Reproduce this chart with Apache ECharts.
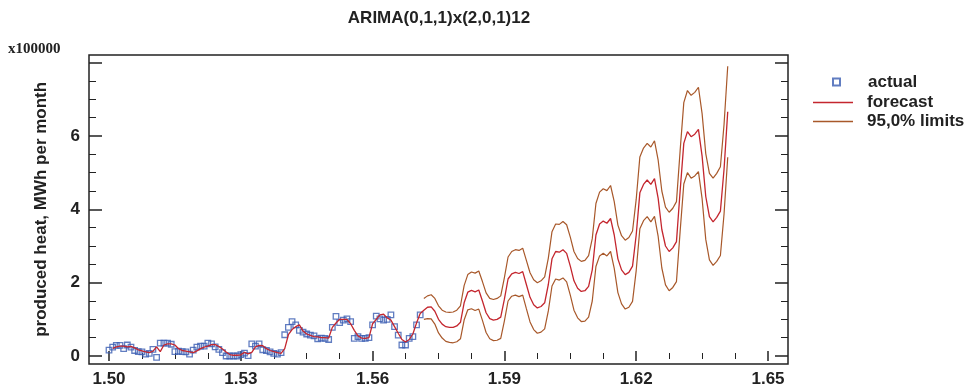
<!DOCTYPE html>
<html><head><meta charset="utf-8">
<script src="https://cdn.jsdelivr.net/npm/echarts@6/dist/echarts.min.js"></script>
<style>html,body{margin:0;padding:0;background:#fff}#c{width:964px;height:390px}</style>
</head><body><div id="c"></div>
<script>
// x axis: 1.50 .. 1.65, one unit of 0.01 per 12 months
const xTickLabels = [1.50, 1.53, 1.56, 1.59, 1.62, 1.65];
const yTickLabels = [0, 2, 4, 6];
const startX = 1.50;
const monthStep = 0.01 / 12;

// actual observations, months 0..85 (x100000 MWh)
const actual = [
  0.16,0.24,0.29,0.29,0.20,0.30,0.24,0.15,0.12,0.11,
  0.05,0.07,0.18,-0.04,0.35,0.35,0.35,0.32,0.12,0.13,
  0.12,0.11,0.05,0.16,0.24,0.27,0.27,0.35,0.33,0.25,
  0.18,0.09,0.00,0.00,0.00,0.00,0.04,0.08,0.01,0.33,
  0.27,0.33,0.17,0.15,0.11,0.07,0.05,0.09,0.58,0.78,
  0.94,0.85,0.70,0.65,0.60,0.57,0.55,0.47,0.49,0.48,
  0.45,0.78,1.08,0.91,0.98,1.01,0.94,0.48,0.53,0.48,
  0.48,0.50,0.85,1.09,1.01,0.98,1.00,1.12,0.80,0.57,
  0.30,0.30,0.48,0.53,0.85,1.12
];
// one-step fitted values, months 1..85
const fitted = [
  0.21,0.25,0.27,0.27,0.25,0.26,0.22,0.17,0.14,
  0.11,0.09,0.13,0.25,0.12,0.30,0.33,0.33,0.30,0.20,
  0.15,0.13,0.11,0.09,0.14,0.20,0.24,0.27,0.31,0.31,
  0.26,0.19,0.11,0.04,0.02,0.02,0.03,0.10,0.06,0.10,
  0.25,0.29,0.28,0.20,0.15,0.12,0.09,0.07,0.20,0.58,
  0.72,0.80,0.85,0.68,0.60,0.56,0.53,0.52,0.50,0.50,
  0.49,0.78,0.90,1.00,1.00,1.00,0.88,0.70,0.55,0.49,
  0.48,0.50,0.88,1.00,1.12,1.14,1.04,0.98,0.80,0.62,
  0.45,0.38,0.45,0.60,0.90,1.16
];
// forecasts, months 86..169
const forecast = [
  1.25,1.33,1.34,1.22,1.00,0.87,0.80,0.78,0.78,0.82,
  0.92,1.45,1.74,1.79,1.75,1.80,1.50,1.18,1.02,0.98,1.00,1.06,
  1.55,2.10,2.24,2.28,2.25,2.30,1.95,1.60,1.40,1.31,1.35,1.45,
  1.95,2.65,2.85,2.83,2.90,2.80,2.45,2.05,1.85,1.76,1.78,1.90,
  2.35,3.30,3.60,3.68,3.62,3.75,3.30,2.65,2.35,2.22,2.28,2.45,
  3.30,4.45,4.68,4.80,4.68,4.84,4.30,3.45,3.00,2.85,2.95,3.12,
  4.50,5.80,6.12,5.98,6.05,6.18,5.45,4.35,3.80,3.66,3.78,3.95,
  5.10,6.66
];
const upperLimit = [
  1.57,1.64,1.67,1.57,1.37,1.25,1.20,1.19,1.20,1.25,
  1.37,1.92,2.22,2.29,2.26,2.32,2.03,1.72,1.57,1.54,1.57,1.64,
  2.14,2.70,2.85,2.90,2.88,2.94,2.61,2.27,2.08,2.00,2.05,2.16,
  2.67,3.39,3.60,3.59,3.67,3.58,3.24,2.85,2.66,2.58,2.61,2.74,
  3.20,4.16,4.47,4.56,4.51,4.65,4.21,3.57,3.28,3.16,3.23,3.41,
  4.27,5.43,5.67,5.80,5.70,5.87,5.34,4.50,4.06,3.92,4.03,4.21,
  5.60,6.91,7.24,7.11,7.19,7.33,6.61,5.52,4.98,4.85,4.98,5.16,
  6.32,7.90
];
const lowerLimit = [
  1.00,1.02,1.01,0.87,0.63,0.49,0.40,0.37,0.36,0.39,
  0.47,0.98,1.26,1.29,1.24,1.28,0.97,0.64,0.47,0.42,0.43,0.48,
  0.96,1.50,1.63,1.66,1.62,1.66,1.29,0.93,0.72,0.62,0.65,0.74,
  1.23,1.91,2.10,2.07,2.13,2.02,1.66,1.25,1.04,0.94,0.95,1.06,
  1.50,2.44,2.73,2.80,2.73,2.85,2.39,1.73,1.42,1.28,1.33,1.49,
  2.33,3.47,3.69,3.80,3.66,3.81,3.26,2.40,1.94,1.78,1.87,2.03,
  3.40,4.69,5.00,4.85,4.91,5.03,4.29,3.18,2.62,2.47,2.58,2.74,
  3.88,5.42
];

const fitStart = 1, fcStart = 86;
const xAt = i => startX + i * monthStep;
const actualData = actual.map((v, i) => [xAt(i), v]);
const redData = fitted.map((v, k) => [xAt(fitStart + k), v])
  .concat(forecast.map((v, k) => [xAt(fcStart + k), v]));
const upData = upperLimit.map((v, k) => [xAt(fcStart + k), v]);
const loData = lowerLimit.map((v, k) => [xAt(fcStart + k), v]);

const FONT = 'Liberation Sans';
const INK = '#222';
const BLUE = '#3a5cb2', RED = '#c4262e', BROWN = '#a8582a';

const xMin = xTickLabels[0], xMax = xTickLabels[xTickLabels.length - 1];
const xInt = +(xTickLabels[1] - xTickLabels[0]).toFixed(4);
const yInt = yTickLabels[1] - yTickLabels[0];

function xAxisCfg(pos, off, showLabel) {
  return {
    gridIndex: 0, type: 'value', position: pos, offset: off,
    min: xMin, max: xMax, interval: xInt,
    axisLine: { show: false },
    axisTick: { show: true, inside: true, length: 5, lineStyle: { color: INK, width: 1.5 } },
    minorTick: { show: true, splitNumber: 4, length: 3, lineStyle: { color: INK, width: 1 } },
    splitLine: { show: false }, minorSplitLine: { show: false },
    axisLabel: { show: showLabel, margin: 7, fontSize: 17, fontWeight: 'bold', fontFamily: FONT, color: INK,
      formatter: v => v.toFixed(2) }
  };
}
function yAxisCfg(pos, showLabel) {
  return {
    gridIndex: 0, type: 'value', position: pos, offset: 20,
    min: 0, max: 8, interval: yInt,
    axisLine: { show: false },
    axisTick: { show: true, inside: true, length: 13, lineStyle: { color: INK, width: 1.5 } },
    minorTick: { show: true, splitNumber: 4, length: 7, lineStyle: { color: INK, width: 1 } },
    splitLine: { show: false }, minorSplitLine: { show: false },
    axisLabel: { show: showLabel, margin: 9, fontSize: 17, fontWeight: 'bold', fontFamily: FONT, color: INK,
      formatter: v => (yTickLabels.indexOf(v) >= 0 ? String(v) : '') },
    name: showLabel ? 'produced heat, MWh per month' : '',
    nameLocation: 'middle', nameRotate: 90, nameGap: 39,
    nameTextStyle: { fontSize: 17, fontWeight: 'bold', fontFamily: FONT, color: INK }
  };
}
const legendText = pad => ({ fontSize: 17, fontWeight: 'bold', fontFamily: FONT, color: INK, lineHeight: 20, padding: [0, 0, 0, pad] });

const chart = echarts.init(document.getElementById('c'), null, { renderer: 'canvas' });
chart.setOption({
  animation: false,
  backgroundColor: '#fff',
  title: {
    text: 'ARIMA(0,1,1)x(2,0,1)12', left: 439, top: 10, textAlign: 'center', padding: 0,
    textStyle: { fontSize: 17, fontWeight: 'bold', fontFamily: FONT, color: INK }
  },
  grid: [
    { left: 109, right: 196, top: 62.67, bottom: 34, show: false },
    { left: 89, right: 176, top: 55, bottom: 26, show: true, borderColor: INK, borderWidth: 1.5, backgroundColor: 'transparent' }
  ],
  xAxis: [
    xAxisCfg('bottom', 8, true),
    xAxisCfg('top', 7.67, false),
    { gridIndex: 1, show: false, type: 'value', min: 0, max: 1 }
  ],
  yAxis: [
    yAxisCfg('left', true),
    yAxisCfg('right', false),
    { gridIndex: 1, show: false, type: 'value', min: 0, max: 1 }
  ],
  legend: [
    { data: ['actual'], left: 832, top: 72, orient: 'vertical', padding: 0, itemWidth: 7, itemHeight: 7,
      selectedMode: false, textStyle: legendText(23) },
    { data: ['forecast'], left: 813, top: 92.5, orient: 'vertical', padding: 0, itemWidth: 40, itemHeight: 1.5,
      icon: 'rect', selectedMode: false, textStyle: legendText(9) },
    { data: ['95,0% limits'], left: 813, top: 111.5, orient: 'vertical', padding: 0, itemWidth: 40, itemHeight: 1.5,
      icon: 'rect', selectedMode: false, textStyle: legendText(9) }
  ],
  graphic: [
    { type: 'text', x: 8, y: 49,
      style: { text: 'x100000', font: 'bold 15px "Liberation Serif"', fill: INK,
        textVerticalAlign: 'middle', verticalAlign: 'middle' } }
  ],
  series: [
    { name: '95,0% limits', type: 'line', xAxisIndex: 0, yAxisIndex: 0, data: upData,
      symbol: 'none', showSymbol: false, clip: false,
      lineStyle: { color: BROWN, width: 1.2 }, itemStyle: { color: BROWN } },
    { name: '95,0% limits', type: 'line', xAxisIndex: 0, yAxisIndex: 0, data: loData,
      symbol: 'none', showSymbol: false, clip: false,
      lineStyle: { color: BROWN, width: 1.2 }, itemStyle: { color: BROWN } },
    { name: 'forecast', type: 'line', xAxisIndex: 0, yAxisIndex: 0, data: redData,
      symbol: 'none', showSymbol: false, clip: false,
      lineStyle: { color: RED, width: 1.3 }, itemStyle: { color: RED } },
    { name: 'actual', type: 'scatter', xAxisIndex: 0, yAxisIndex: 0, data: actualData,
      symbol: 'rect', symbolSize: 5.5, clip: false,
      itemStyle: { color: 'rgba(255,255,255,0)', borderColor: BLUE, borderWidth: 1.3 } }
  ]
});
</script>
</body></html>
